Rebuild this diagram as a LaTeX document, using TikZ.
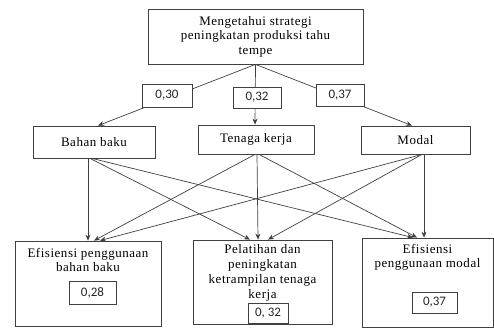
\documentclass[tikz,border=0pt]{standalone}
\usepackage{fontspec}
\setmainfont{Liberation Serif}[LetterSpace=4]
\newfontfamily\numfont{Carlito}
\usetikzlibrary{arrows.meta}
\begin{document}
\begin{tikzpicture}[x=1pt,y=-1pt,
  box/.style={draw=black!75,line width=0.8pt,inner sep=0pt,fill=white},
  txt/.style={align=center,font=\fontsize{13}{14.5}\selectfont,text=black,inner sep=0pt},
  val/.style={draw=black!75,line width=0.8pt,inner sep=0pt,fill=white,font=\numfont\fontsize{13}{14}\selectfont,text=black!85},
  con/.style={draw=black!75,line width=0.7pt},
  arr/.style={con,-{Stealth[length=6pt,width=5pt]}}]
\useasboundingbox (0,0) rectangle (494,329);
% main boxes
\node[box,minimum width=215pt,minimum height=55pt] (top) at (255.5,36.5) {};
\node[txt] (toptxt) at (255.5,36.5) {Mengetahui strategi\\peningkatan produksi tahu\\tempe};
\node[box,minimum width=122pt,minimum height=32pt,txt] (bb) at (94,142) {Bahan baku};
\node[box,minimum width=116pt,minimum height=29pt,txt] (tk) at (256,139.5) {Tenaga kerja};
\node[box,minimum width=109pt,minimum height=28pt,txt] (md) at (415.5,140) {Modal};
\node[box,minimum width=146pt,minimum height=85pt] (eb) at (88,283.5) {};
\node[box,minimum width=139pt,minimum height=84pt] (pl) at (262.5,282) {};
\node[box,minimum width=131pt,minimum height=89pt] (em) at (427.5,282.5) {};
\node[txt] (ebt) at (88,260) {Efisiensi penggunaan\\bahan baku};
\node[txt,font=\fontsize{13}{15}\selectfont] (plt) at (262.5,272.5) {Pelatihan dan\\peningkatan\\ketrampilan tenaga\\kerja};
\node[txt] (emt) at (427.5,257.5) {Efisiensi\\penggunaan modal};
% connectors from top
\draw[arr] (top.south) -- ([xshift=4pt]bb.north);
\draw[arr] (top.south) -- ([xshift=-1pt]tk.north);
\draw[arr] (top.south) -- ([xshift=-3.5pt]md.north);
\node[val,minimum width=50pt,minimum height=23pt] (w30) at (167,95.5) {0,30};
\node[val,minimum width=48pt,minimum height=21pt] (w32) at (257,97.5) {0,32};
\node[val,minimum width=48pt,minimum height=22pt] (w37) at (340,95) {0,37};
% connectors to bottom
\draw[arr] ([xshift=-6pt]bb.south) -- ([xshift=0pt]eb.north);
\draw[arr] ([xshift=-4pt]bb.south) -- ([xshift=-12.5pt]pl.north);
\draw[arr] ([xshift=-2pt]bb.south) -- ([xshift=-14.5pt]em.north);
\draw[arr] ([xshift=-1pt]tk.south) -- ([xshift=6pt]eb.north);
\draw[arr] ([xshift=1pt]tk.south) -- ([xshift=-4.5pt]pl.north);
\draw[arr] ([xshift=3pt]tk.south) -- ([xshift=-10.5pt]em.north);
\draw[arr] ([xshift=6.5pt]md.south) -- ([xshift=12pt]eb.north);
\draw[arr] ([xshift=6.5pt]md.south) -- ([xshift=5.5pt]pl.north);
\draw[arr] ([xshift=8.5pt]md.south) -- ([xshift=-3.5pt]em.north);
% values in bottom boxes
\node[val,minimum width=47pt,minimum height=23pt] (v28) at (92.5,292.5) {0,28};
\node[val,minimum width=40pt,minimum height=20pt] (v32) at (268,313) {0, 32};
\node[val,minimum width=45pt,minimum height=21pt] (v37) at (434.5,302.5) {0,37};
\end{tikzpicture}
\end{document}
